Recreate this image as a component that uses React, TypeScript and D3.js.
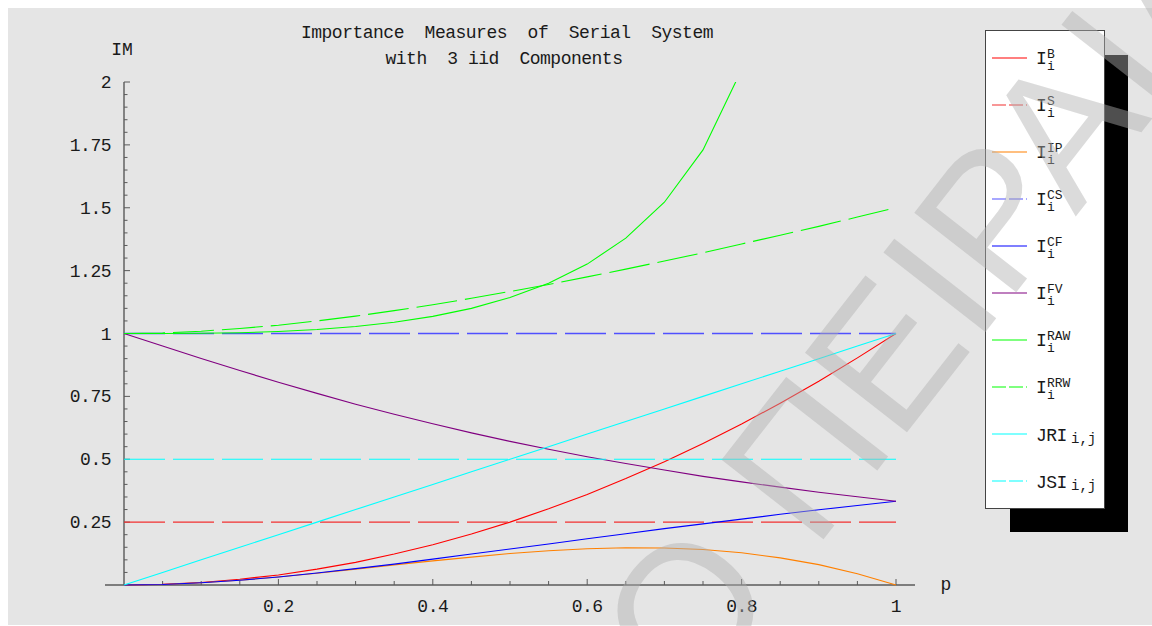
import * as d3 from "d3";

// sample grid used for the curves (component reliability p)
const pGrid = [0, 0.05, 0.1, 0.15, 0.2, 0.25, 0.3, 0.35, 0.4, 0.45, 0.5, 0.55, 0.6, 0.65, 0.7, 0.75, 0.8, 0.85, 0.9, 0.95, 1];
const pEnds = [0, 1];
const pRaw = [0, 0.05, 0.1, 0.15, 0.2, 0.25, 0.3, 0.35, 0.4, 0.45, 0.5, 0.55, 0.6, 0.65, 0.7, 0.75, 0.8];

const birnbaum = [0, 0.003, 0.01, 0.023, 0.04, 0.063, 0.09, 0.123, 0.16, 0.203, 0.25, 0.303, 0.36, 0.423, 0.49, 0.563, 0.64, 0.723, 0.81, 0.903, 1];
const structural = [0.25, 0.25];
const improvementPotential = [0, 0.002, 0.009, 0.019, 0.032, 0.047, 0.063, 0.08, 0.096, 0.111, 0.125, 0.136, 0.144, 0.148, 0.147, 0.141, 0.128, 0.108, 0.081, 0.045, 0];
const criticalSuccess = [1, 1];
const criticalFailure = [0, 0.002, 0.009, 0.019, 0.032, 0.048, 0.065, 0.083, 0.103, 0.123, 0.143, 0.163, 0.184, 0.204, 0.224, 0.243, 0.262, 0.281, 0.299, 0.316, 0.333];
const fussellVesely = [1, 0.95, 0.901, 0.853, 0.806, 0.762, 0.719, 0.679, 0.641, 0.605, 0.571, 0.54, 0.51, 0.483, 0.457, 0.432, 0.41, 0.389, 0.369, 0.351, 0.333];
const riskAchievement = [1, 1, 1.001, 1.003, 1.008, 1.016, 1.028, 1.045, 1.068, 1.1, 1.143, 1.2, 1.276, 1.379, 1.522, 1.73, 2.049];
const riskReduction = [1, 1.002, 1.009, 1.02, 1.033, 1.05, 1.069, 1.091, 1.114, 1.14, 1.167, 1.195, 1.225, 1.256, 1.288, 1.321, 1.356, 1.391, 1.426, 1.463, 1.5];
const jointReliability = [0, 0.05, 0.1, 0.15, 0.2, 0.25, 0.3, 0.35, 0.4, 0.45, 0.5, 0.55, 0.6, 0.65, 0.7, 0.75, 0.8, 0.85, 0.9, 0.95, 1];
const jointStructural = [0.5, 0.5];

const yTickValues = [0.25, 0.5, 0.75, 1, 1.25, 1.5, 1.75, 2];
const xTickValues = [0.2, 0.4, 0.6, 0.8, 1];

const series = [
  { name: "B", xs: pGrid, ys: birnbaum, color: "#ff0000", dash: null, width: 1.1 },
  { name: "S", xs: pEnds, ys: structural, color: "#f23030", dash: "41,8", width: 1.1 },
  { name: "IP", xs: pGrid, ys: improvementPotential, color: "#ff8000", dash: null, width: 1.1 },
  { name: "CS", xs: pEnds, ys: criticalSuccess, color: "#5050ff", dash: "41,8", width: 1.6 },
  { name: "CF", xs: pGrid, ys: criticalFailure, color: "#0000ff", dash: null, width: 1.1 },
  { name: "FV", xs: pGrid, ys: fussellVesely, color: "#800080", dash: null, width: 1.1 },
  { name: "RAW", xs: pRaw, ys: riskAchievement, color: "#00ff00", dash: null, width: 1.1 },
  { name: "RRW", xs: pGrid, ys: riskReduction, color: "#00ff00", dash: "41,8", width: 1.1 },
  { name: "JRI", xs: pGrid, ys: jointReliability, color: "#00ffff", dash: null, width: 1.1 },
  { name: "JSI", xs: pEnds, ys: jointStructural, color: "#00ffff", dash: "41,8", width: 1.1 },
];

const mono = "'Liberation Mono', 'Courier New', monospace";
const ink = "#1a1a1a";

export default function App() {
  const x = d3.scaleLinear().domain([0, 1]).range([124, 896]);
  const y = d3.scaleLinear().domain([0, 2]).range([585, 82]);

  const line = d3.line<[number, number]>()
    .x(d => x(d[0]))
    .y(d => y(d[1]));

  // minor ticks every 0.05
  const xMinor = d3.range(1, 21).map(i => i * 0.05);
  const yMinor = d3.range(1, 41).map(i => i * 0.05);

  return (
    <svg width={1152} height={626} style={{ position: "absolute", left: 0, top: 0 }}>
      <defs>
        <clipPath id="plotClip">
          <rect x={100} y={y(2)} width={830} height={y(0) - y(2) + 2} />
        </clipPath>
      </defs>
      <rect x={8} y={8} width={1144} height={617} fill="#e5e5e5" />

      {/* title */}
      <text x={507} y={38} textAnchor="middle" fontFamily={mono} fontSize={18} fill={ink} style={{ whiteSpace: "pre" }} letterSpacing={-0.5}>
        {"Importance  Measures  of  Serial  System"}
      </text>
      <text x={504} y={64} textAnchor="middle" fontFamily={mono} fontSize={18} fill={ink} style={{ whiteSpace: "pre" }} letterSpacing={-0.5}>
        {"with  3 iid  Components"}
      </text>

      {/* axes */}
      <line x1={105} x2={915} y1={y(0)} y2={y(0)} stroke="#5a5a5a" strokeWidth={1.6} />
      <line x1={x(0)} x2={x(0)} y1={y(0)} y2={y(2)} stroke="#5a5a5a" strokeWidth={1.4} />
      {xMinor.map(v => {
        const major = Math.abs(v / 0.2 - Math.round(v / 0.2)) < 1e-6;
        return <line key={"xt" + v} x1={x(v)} x2={x(v)} y1={y(0)} y2={y(0) - (major ? 6 : 4)} stroke="#5a5a5a" strokeWidth={1} />;
      })}
      {yMinor.map(v => {
        const major = Math.abs(v / 0.25 - Math.round(v / 0.25)) < 1e-6;
        return <line key={"yt" + v} x1={x(0)} x2={x(0) + (major ? 6 : 3.5)} y1={y(v)} y2={y(v)} stroke="#5a5a5a" strokeWidth={1} />;
      })}
      {xTickValues.map(v => (
        <text key={"xl" + v} x={x(v)} y={612} textAnchor="middle" fontFamily={mono} fontSize={18} fill={ink} letterSpacing={-0.5}>{String(v)}</text>
      ))}
      {yTickValues.map(v => (
        <text key={"yl" + v} x={111} y={y(v) + 6} textAnchor="end" fontFamily={mono} fontSize={18} fill={ink} letterSpacing={-0.5}>{String(v)}</text>
      ))}
      <text x={122} y={55} textAnchor="middle" fontFamily={mono} fontSize={18} fill={ink}>IM</text>
      <text x={946} y={590} textAnchor="middle" fontFamily={mono} fontSize={18} fill={ink}>p</text>

      {/* curves */}
      <g clipPath="url(#plotClip)">
        {series.map(s => (
          <path
            key={s.name}
            d={line(s.xs.map((p, i) => [p, s.ys[i]] as [number, number])) || ""}
            fill="none"
            stroke={s.color}
            strokeWidth={s.width}
            strokeDasharray={s.dash || undefined}
          />
        ))}
      </g>

      {/* legend */}
      <rect x={1010} y={55} width={118} height={477} fill="#000" />
      <rect x={985.5} y={30.5} width={119} height={478} fill="#fff" stroke="#444" strokeWidth={1} />
      {series.map((s, i) => {
        const ly = 58 + i * 47;
        const joint = s.name === "JRI" || s.name === "JSI";
        return (
          <g key={"lg" + s.name}>
            <line x1={992} x2={1027} y1={ly} y2={ly} stroke={s.color} strokeWidth={1.1} strokeDasharray={s.dash ? "14,3" : undefined} />
            {joint ? (
              <>
                <text x={1036} y={ly + 7} fontFamily={mono} fontSize={18} fill={ink} letterSpacing={-0.5}>{s.name}</text>
                <text x={1071} y={ly + 9} fontFamily={mono} fontSize={14} fill={ink}>i,j</text>
              </>
            ) : (
              <>
                <text x={1036} y={ly + 6} fontFamily={mono} fontSize={18} fill={ink}>I</text>
                <text x={1047} y={ly} fontFamily={mono} fontSize={13} fill={ink}>{s.name}</text>
                <text x={1047} y={ly + 12} fontFamily={mono} fontSize={13} fill={ink}>i</text>
              </>
            )}
          </g>
        );
      })}

      {/* watermark */}
      <text
        transform="translate(1262,-22) rotate(-52)"
        textAnchor="end"
        fontFamily="'Liberation Sans', Arial, sans-serif"
        fontSize={188}
        fill="rgb(175,175,175)"
        fillOpacity={0.45}
      >
        ΠΑΝΕΠΙΣΤΗΜΙΟ ΠΕΙΡΑΙΑ
      </text>
    </svg>
  );
}
